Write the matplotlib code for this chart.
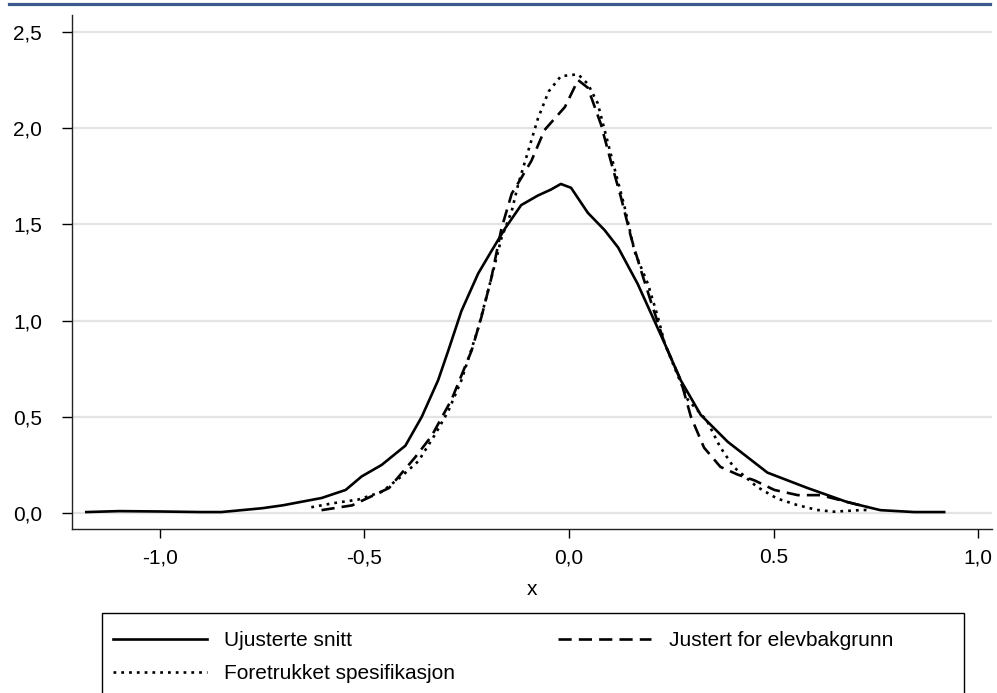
import matplotlib
matplotlib.use("Agg")
import matplotlib.pyplot as plt
from matplotlib.lines import Line2D
from matplotlib.patches import Rectangle

plt.rcParams['font.family'] = ['Liberation Sans', 'DejaVu Sans']

# --- data ---
x_ujust = [-1.18, -1.1, -1.0, -0.9, -0.85, -0.8, -0.75, -0.7, -0.65, -0.605, -0.546, -0.507,
           -0.458, -0.40, -0.36, -0.32, -0.295, -0.263, -0.222, -0.19, -0.156, -0.117, -0.076,
           -0.045, -0.02, 0.005, 0.046, 0.087, 0.12, 0.168, 0.234, 0.273, 0.322, 0.388, 0.485,
           0.583, 0.68, 0.761, 0.844, 0.917]
y_ujust = [0.005, 0.01, 0.008, 0.005, 0.005, 0.015, 0.025, 0.04, 0.06, 0.078, 0.12, 0.19,
           0.25, 0.35, 0.5, 0.69, 0.845, 1.05, 1.245, 1.36, 1.48, 1.6, 1.65,
           1.68, 1.71, 1.69, 1.56, 1.47, 1.38, 1.19, 0.88, 0.69, 0.51, 0.37, 0.21,
           0.13, 0.057, 0.015, 0.005, 0.005]

x_just = [-0.605, -0.53, -0.49, -0.44, -0.376, -0.336, -0.287, -0.238, -0.214, -0.19, -0.165,
          -0.14, -0.117, -0.092, -0.06, -0.01, 0.022, 0.046, 0.078, 0.102, 0.127, 0.152, 0.176,
          0.2, 0.234, 0.273, 0.298, 0.33, 0.37, 0.412, 0.453, 0.502, 0.559, 0.615, 0.663,
          0.712, 0.73]
y_just = [0.015, 0.04, 0.08, 0.13, 0.29, 0.40, 0.59, 0.845, 1.02, 1.22, 1.48,
          1.66, 1.74, 1.83, 1.99, 2.11, 2.25, 2.21, 2.02, 1.83, 1.64, 1.43, 1.26,
          1.1, 0.88, 0.69, 0.5, 0.34, 0.24, 0.2, 0.17, 0.12, 0.093, 0.093, 0.067,
          0.04, 0.03]

x_foretr = [-0.63, -0.58, -0.515, -0.458, -0.41, -0.368, -0.327, -0.295, -0.263, -0.222, -0.19,
            -0.165, -0.14, -0.124, -0.1, -0.076, -0.05, -0.02, 0.022, 0.046, 0.07, 0.087, 0.11,
            0.136, 0.16, 0.193, 0.217, 0.234, 0.29, 0.337, 0.369, 0.402, 0.459, 0.508, 0.557,
            0.606, 0.647, 0.72, 0.73]
y_foretr = [0.03, 0.05, 0.07, 0.11, 0.19, 0.27, 0.41, 0.53, 0.69, 0.96, 1.22,
            1.43, 1.57, 1.71, 1.88, 2.05, 2.19, 2.27, 2.28, 2.23, 2.13, 1.99, 1.8,
            1.59, 1.36, 1.19, 1.02, 0.88, 0.59, 0.48, 0.345, 0.24, 0.137, 0.076, 0.042,
            0.016, 0.007, 0.016, 0.015]

labels = ["Ujusterte snitt", "Justert for elevbakgrunn", "Foretrukket spesifikasjon"]
xticks = [-1.0, -0.5, 0.0, 0.5, 1.0]
xticklabels = ["-1,0", "-0,5", "0,0", "0.5", "1,0"]
yticks = [0.0, 0.5, 1.0, 1.5, 2.0, 2.5]
yticklabels = ["0,0", "0,5", "1,0", "1,5", "2,0", "2,5"]
xlabel = "x"

W, H = 997, 693
fig = plt.figure(figsize=(W / 100, H / 100), dpi=100)
ax = fig.add_axes([72 / W, 1 - 529 / H, (992 - 72) / W, (529 - 15) / H])

lw = 1.9
l1, = ax.plot(x_ujust, y_ujust, color='black', lw=lw, ls='-', label=labels[0])
l2, = ax.plot(x_just, y_just, color='black', lw=lw, ls=(0, (5.0, 2.7)), label=labels[1])
l3, = ax.plot(x_foretr, y_foretr, color='black', lw=lw, ls=(0, (1.05, 1.9)), label=labels[2])

ax.set_xlim(-1.215, 1.034)
ax.set_ylim(-0.083, 2.588)
ax.set_xticks(xticks)
ax.set_xticklabels(xticklabels)
ax.set_yticks(yticks)
ax.set_yticklabels(yticklabels)
ax.tick_params(axis='y', direction='out', length=7, width=1, pad=14.5, labelsize=15)
ax.tick_params(axis='x', direction='out', length=6.5, width=1, pad=7.5, labelsize=15)
ax.yaxis.grid(True, color='#e3e3e3', lw=1.6)
ax.set_axisbelow(True)
for s in ['top', 'right']:
    ax.spines[s].set_visible(False)
for s in ['left', 'bottom']:
    ax.spines[s].set_linewidth(1.0)
    ax.spines[s].set_color('#222222')
ax.set_xlabel(xlabel, fontsize=15, labelpad=9)

# top blue rule
fig.add_artist(Line2D([9 / W, 990 / W], [1 - 3.5 / H, 1 - 3.5 / H], color='#3d5a8c', lw=2.3))

# legend box (bottom cut off by the figure edge)
fig.add_artist(Rectangle((102 / W, -0.05), (964 - 102) / W, (1 - 613 / H) + 0.05,
                         transform=fig.transFigure, fill=False, ec='black', lw=1.0))
fig.legend(handles=[l1, l3, l2], labels=[labels[0], labels[2], labels[1]], ncol=2,
           loc='upper left', bbox_to_anchor=(113 / W, 1 - 631 / H), frameon=False,
           fontsize=15, handlelength=4.5, handletextpad=0.85, columnspacing=4.9,
           borderpad=0, borderaxespad=0, labelspacing=0.69)

fig.savefig('out.png', dpi=100)
